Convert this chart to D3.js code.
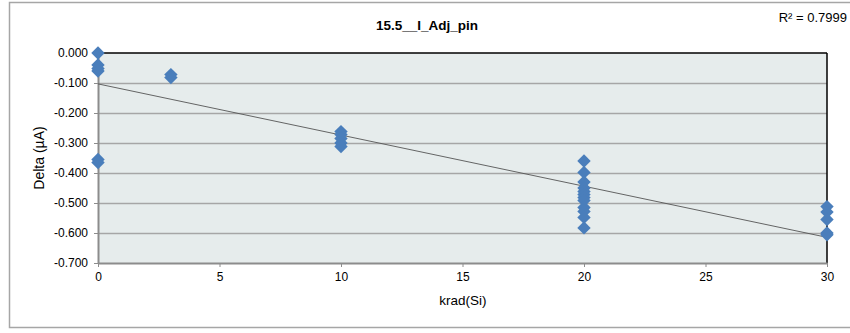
<!DOCTYPE html>
<html><head><meta charset="utf-8">
<script src="https://cdn.jsdelivr.net/npm/d3@7"></script>
<style>body{margin:0;background:#fff;}svg{display:block;font-family:"Liberation Sans",Arial,sans-serif;}</style>
</head><body><svg id="c" width="850" height="333"></svg>
<script>
const title = "15.5__I_Adj_pin";
const xLabel = "krad(Si)";
const yLabel = "Delta (µA)";
const r2Label = "R² = 0.7999";
const xValues = [0,0,0,0,0,0, 3,3, 10,10,10,10,10, 20,20,20,20,20,20,20,20,20,20,20,20, 30,30,30,30,30];
const yValues = [0.000,-0.040,-0.052,-0.060,-0.355,-0.365, -0.072,-0.082, -0.262,-0.272,-0.285,-0.300,-0.312,
  -0.360,-0.398,-0.430,-0.450,-0.462,-0.472,-0.482,-0.492,-0.515,-0.528,-0.548,-0.583,
  -0.512,-0.530,-0.555,-0.600,-0.606];
const xTicks = [0,5,10,15,20,25,30];
const yTicks = [0,-0.1,-0.2,-0.3,-0.4,-0.5,-0.6,-0.7];
const trendIntercept = -0.103;
const trendSlope = -0.01705;

const svg = d3.select("#c");
const L=98, R=827, T=53, B=263;
const x = d3.scaleLinear().domain([0,30]).range([L,R]);
const y = d3.scaleLinear().domain([-0.7,0]).range([B,T]);

svg.append("rect").attr("x",9.5).attr("y",2.5).attr("width",845).attr("height",325)
  .attr("fill","#fff").attr("stroke","#a6a6a6").attr("stroke-width",1.5);

svg.append("rect").attr("x",L).attr("y",T).attr("width",R-L).attr("height",B-T).attr("fill","#e6ecec");

svg.append("g").selectAll("line").data(yTicks.slice(1,-1)).join("line")
  .attr("x1",L).attr("x2",R).attr("y1",d=>Math.round(y(d))+0.5).attr("y2",d=>Math.round(y(d))+0.5)
  .attr("stroke","#a6a6a6").attr("stroke-width",1.5);

svg.append("line").attr("x1",L).attr("x2",R).attr("y1",T).attr("y2",T).attr("stroke","#000").attr("stroke-width",1.5);
svg.append("line").attr("x1",R).attr("x2",R).attr("y1",T).attr("y2",B).attr("stroke","#000").attr("stroke-width",1.5);

const yAxis = svg.append("g").attr("transform",`translate(${L},0)`)
  .call(d3.axisLeft(y).tickValues(yTicks).tickFormat(d3.format(".3f")).tickSize(4).tickSizeOuter(0));
const xAxis = svg.append("g").attr("transform",`translate(0,${B})`)
  .call(d3.axisBottom(x).tickValues(xTicks).tickSize(4).tickSizeOuter(0));
[yAxis,xAxis].forEach(a=>{
  a.select(".domain").attr("stroke","#8c8c8c").attr("stroke-width",2);
  a.selectAll(".tick line").attr("stroke","#8c8c8c");
  a.selectAll("text").attr("font-size",12).attr("fill","#000").attr("font-family","Liberation Sans, Arial, sans-serif");
});
yAxis.selectAll("text").attr("x",-10).text(d=>d3.format(".3f")(d).replace("−","-"));
xAxis.selectAll("text").attr("y",9);

svg.append("line").attr("x1",x(0)).attr("y1",y(trendIntercept)).attr("x2",x(30)).attr("y2",y(trendIntercept+trendSlope*30))
  .attr("stroke","#555").attr("stroke-width",0.9);

const pts = xValues.map((v,i)=>({x:v,y:yValues[i]}));
const sym = d3.symbol().type(d3.symbolDiamond2).size(115);
svg.append("g").selectAll("path").data(pts).join("path")
  .attr("transform",d=>`translate(${x(d.x)},${y(d.y)})`)
  .attr("d",sym).attr("fill","#4a7ebb");

svg.append("text").attr("x",427).attr("y",30).attr("text-anchor","middle").attr("font-weight","bold").attr("font-size",13.5).text(title);
svg.append("text").attr("x",847).attr("y",22).attr("text-anchor","end").attr("font-size",13).text(r2Label);
svg.append("text").attr("x",463).attr("y",305).attr("text-anchor","middle").attr("font-size",13.5).text(xLabel);
svg.append("text").attr("transform","translate(44,158) rotate(-90)").attr("text-anchor","middle").attr("font-size",14).text(yLabel);
</script></body></html>
